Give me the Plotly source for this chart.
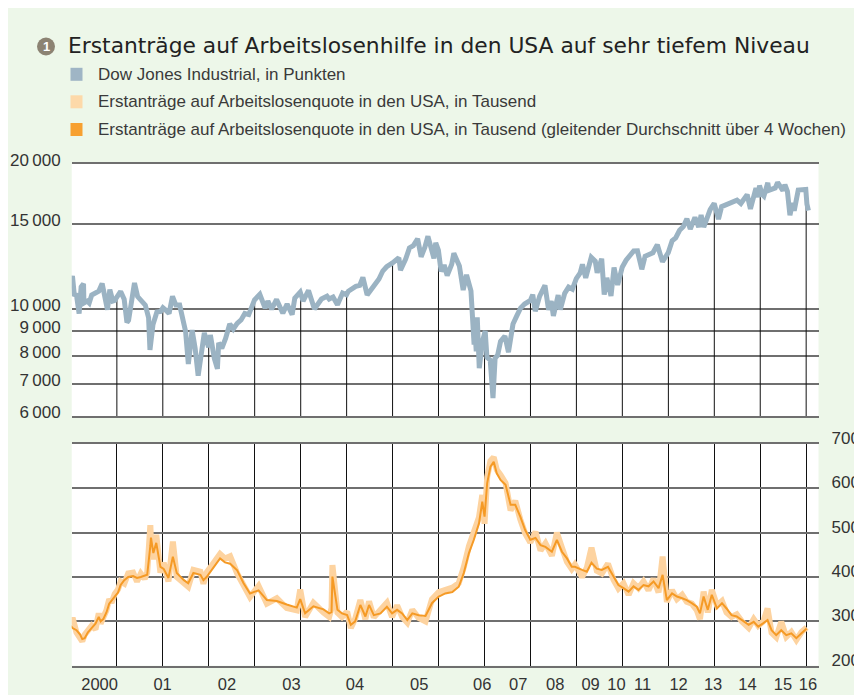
import numpy as np
import pandas as pd
import plotly.graph_objects as go

# the page has an 8 px body margin, so the figure fills the rest of the window
OFF = 8
W, H = 862 - OFF, 695 - OFF

# ---------------- data ----------------
dow_dates = [
    "2000-01-03", "2000-01-14", "2000-01-28", "2000-02-15", "2000-03-07", "2000-03-23", "2000-04-11",
    "2000-04-14", "2000-05-10", "2000-05-26", "2000-06-15", "2000-07-15", "2000-08-10", "2000-09-06",
    "2000-09-29", "2000-10-18", "2000-11-06", "2000-11-30", "2000-12-15",
    "2001-01-02", "2001-01-31", "2001-02-28", "2001-03-22", "2001-04-04", "2001-04-30", "2001-05-21",
    "2001-06-15", "2001-07-15", "2001-08-15", "2001-09-10", "2001-09-21", "2001-10-15", "2001-11-15",
    "2001-12-15",
    "2002-01-02", "2002-01-31", "2002-02-20", "2002-03-19", "2002-04-15", "2002-05-15", "2002-06-15",
    "2002-07-01", "2002-07-23", "2002-08-22", "2002-09-15", "2002-10-09", "2002-11-15", "2002-11-27",
    "2002-12-31",
    "2003-01-14", "2003-02-15", "2003-03-11", "2003-03-21", "2003-04-15", "2003-05-15", "2003-06-17",
    "2003-07-15", "2003-08-15", "2003-09-15", "2003-10-15", "2003-11-15", "2003-12-31",
    "2004-02-11", "2004-03-24", "2004-04-15", "2004-05-15", "2004-06-23", "2004-08-12", "2004-09-15",
    "2004-10-25", "2004-11-15", "2004-12-28",
    "2005-01-20", "2005-03-04", "2005-04-20", "2005-05-15", "2005-06-15", "2005-07-29", "2005-08-15",
    "2005-09-15", "2005-10-20", "2005-11-30", "2005-12-31",
    "2006-01-15", "2006-02-15", "2006-03-15", "2006-04-15", "2006-05-10", "2006-06-13", "2006-07-15",
    "2006-08-15", "2006-09-15", "2006-10-15", "2006-11-15", "2006-12-29",
    "2007-01-31", "2007-02-20", "2007-03-05", "2007-04-15", "2007-05-15", "2007-06-15", "2007-07-19",
    "2007-08-16", "2007-09-15", "2007-10-09", "2007-11-26", "2007-12-10", "2007-12-31",
    "2008-01-22", "2008-02-15", "2008-03-10", "2008-04-15", "2008-05-02", "2008-06-15", "2008-07-15",
    "2008-08-11", "2008-09-15", "2008-10-10", "2008-10-13", "2008-10-27", "2008-11-04", "2008-11-20",
    "2008-12-15",
    "2009-01-06", "2009-01-20", "2009-02-15", "2009-03-09", "2009-03-26", "2009-04-15", "2009-05-08",
    "2009-06-12", "2009-07-10", "2009-08-15", "2009-09-15", "2009-10-15", "2009-11-15", "2009-12-31",
    "2010-01-19", "2010-02-08", "2010-03-15", "2010-04-26", "2010-05-25", "2010-06-15", "2010-07-02",
    "2010-08-09", "2010-08-26", "2010-09-30", "2010-10-31", "2010-11-30", "2010-12-31",
    "2011-01-31", "2011-02-18", "2011-03-16", "2011-04-29", "2011-05-31", "2011-06-15", "2011-07-21",
    "2011-08-10", "2011-08-31", "2011-10-03", "2011-10-27", "2011-11-25", "2011-12-31",
    "2012-01-31", "2012-02-29", "2012-03-31", "2012-04-30", "2012-06-04", "2012-06-30", "2012-07-31",
    "2012-08-31", "2012-10-05", "2012-11-15", "2012-12-31",
    "2013-01-31", "2013-02-28", "2013-03-31", "2013-04-30", "2013-05-28", "2013-06-24", "2013-07-31",
    "2013-08-30", "2013-09-18", "2013-10-09", "2013-11-29", "2013-12-31",
    "2014-02-03", "2014-02-28", "2014-03-31", "2014-04-30", "2014-05-30", "2014-06-30", "2014-07-31",
    "2014-08-29", "2014-09-19", "2014-10-15", "2014-11-28", "2014-12-16", "2014-12-26",
    "2015-01-15", "2015-01-30", "2015-03-02", "2015-03-11", "2015-04-30", "2015-05-19", "2015-06-30",
    "2015-07-16", "2015-08-05", "2015-08-25", "2015-09-15", "2015-09-28", "2015-10-30", "2015-11-30",
    "2015-12-29",
    "2016-01-07", "2016-01-19",
]
dow_values = [
    11357, 11723, 10739, 10700, 9796, 11120, 11287,
    10306, 10400, 10300, 10700, 10800, 10900, 11310,
    10650, 9975, 10980, 10400, 10430,
    10646, 10887, 10495, 9389, 9485, 10735, 11337,
    10623, 10450, 10200, 9605, 8236, 9300, 9872,
    9900,
    10073, 9920, 9800, 10635, 10200, 10200, 9500,
    9000, 7702, 9053, 8300, 7286, 8500, 8931,
    8342,
    8842, 7900, 7524, 8521, 8300, 8700, 9323,
    9100, 9350, 9500, 9800, 9750, 10454,
    10737, 10050, 10400, 10000, 10480, 9815, 10250,
    9750, 10550, 10854,
    10400, 10940, 10012, 10250, 10500, 10640, 10500,
    10600, 10215, 10805, 10717,
    10900, 11050, 11150, 11200, 11642, 10706, 11000,
    11200, 11550, 12000, 12250, 12463,
    12620, 12786, 12050, 12700, 13400, 13550, 14000,
    12846, 13450, 14165, 12743, 13727, 13265,
    11971, 12350, 11740, 12400, 13058, 12300, 10963,
    11782, 10918, 8451, 9387, 8176, 9625, 7552,
    8565,
    9015, 7950, 7850, 6547, 7924, 8030, 8575,
    8800, 8146, 9320, 9700, 10063, 10250, 10428,
    10726, 9908, 10650, 11205, 9975, 10400, 9686,
    10698, 9986, 10789, 11118, 11006, 11578,
    11892, 12391, 11613, 12811, 12570, 11897, 12724,
    10720, 11614, 10655, 12209, 11231, 12218,
    12633, 12952, 13212, 13214, 12101, 12880, 13009,
    13091, 13610, 12542, 13104,
    13861, 14054, 14579, 14840, 15409, 14660, 15500,
    14810, 15676, 14802, 16086, 16577,
    15373, 16322, 16458, 16581, 16717, 16827, 16563,
    17098, 17280, 16142, 17828, 17068, 18053,
    17320, 17165, 18288, 17635, 17841, 18312, 17620,
    18120, 17550, 15666, 16600, 16001, 17664, 17720,
    17720,
    16514, 16016,
]

claims_dates = [
    "2000-01-01", "2000-01-15", "2000-02-15", "2000-03-15", "2000-04-01", "2000-04-20", "2000-05-15",
    "2000-06-15", "2000-07-15", "2000-08-10", "2000-08-25", "2000-09-15", "2000-10-10", "2000-11-01",
    "2000-11-20", "2000-12-15",
    "2001-01-10", "2001-01-31", "2001-03-01", "2001-04-01", "2001-05-10", "2001-06-10", "2001-07-10",
    "2001-08-10", "2001-08-30", "2001-09-24", "2001-09-29", "2001-10-18", "2001-11-10", "2001-12-13",
    "2002-01-08", "2002-02-15", "2002-03-22", "2002-04-22", "2002-06-18", "2002-07-22", "2002-09-01",
    "2002-10-27", "2002-11-20", "2002-12-15",
    "2003-02-10", "2003-04-01", "2003-05-10", "2003-06-20", "2003-08-15", "2003-10-05", "2003-11-25",
    "2004-02-01", "2004-04-07", "2004-06-25", "2004-09-12", "2004-12-01", "2004-12-28",
    "2005-02-05", "2005-04-12", "2005-07-01", "2005-08-15", "2005-09-03", "2005-09-10", "2005-10-20",
    "2005-11-25",
    "2006-01-05", "2006-02-03", "2006-03-10", "2006-04-20", "2006-05-30", "2006-06-28", "2006-08-05",
    "2006-09-27", "2006-11-17", "2006-12-28",
    "2007-02-06", "2007-03-18", "2007-04-28", "2007-06-07", "2007-07-27", "2007-09-20", "2007-11-10",
    "2008-01-03", "2008-02-24", "2008-04-20", "2008-06-10", "2008-07-20", "2008-08-30", "2008-10-08",
    "2008-11-18", "2008-12-14",
    "2009-01-01", "2009-01-22", "2009-02-17", "2009-03-15", "2009-04-08", "2009-05-08", "2009-06-17",
    "2009-07-27", "2009-09-02", "2009-10-12", "2009-11-20", "2009-12-31",
    "2010-02-10", "2010-03-22", "2010-04-30", "2010-06-20", "2010-07-30", "2010-09-08", "2010-10-18",
    "2010-11-25", "2010-12-20",
    "2011-02-15", "2011-03-25", "2011-05-01", "2011-06-12", "2011-07-22", "2011-09-09", "2011-10-23",
    "2011-12-01",
    "2012-01-10", "2012-02-20", "2012-03-30", "2012-05-08", "2012-06-17", "2012-07-27", "2012-09-05",
    "2012-10-15", "2012-11-16", "2012-12-20",
    "2013-01-30", "2013-03-10", "2013-04-20", "2013-05-27", "2013-07-06", "2013-08-15", "2013-09-09",
    "2013-10-08", "2013-11-10", "2013-12-12",
    "2014-01-22", "2014-03-03", "2014-04-08", "2014-05-18", "2014-06-28", "2014-08-07", "2014-10-01",
    "2014-11-10", "2014-12-16",
    "2015-01-26", "2015-02-28", "2015-04-01", "2015-05-08", "2015-06-17", "2015-07-27", "2015-09-05",
    "2015-10-15", "2015-11-25",
    "2016-01-05",
]
claims_avg = [
    290, 285, 280, 270, 260, 262, 275,
    285, 295, 310, 300, 305, 320, 340,
    348, 356,
    365, 382, 393, 400, 402, 398, 400,
    402, 405, 470, 489, 454, 477, 423,
    418, 398, 446, 409, 393, 386, 409,
    405, 393, 400,
    423, 442, 433, 430, 415, 386, 363,
    370, 348, 346, 338, 331, 350,
    318, 334, 327, 318, 321, 401, 326,
    318,
    314, 292, 300, 337, 311, 337, 314,
    318, 333, 318,
    326, 318, 303, 318, 314, 312, 341,
    356, 363, 366, 378, 409, 454, 484,
    521, 570,
    536, 612, 649, 660, 634, 619, 608,
    563, 563, 536, 506, 484,
    488, 472, 468, 457, 484, 457, 442,
    423, 423,
    416, 412, 432, 419, 416, 423, 401,
    382,
    375, 367, 379, 371, 382, 379, 390,
    375, 405, 348,
    363, 356, 352, 348, 341, 333, 318,
    356, 326, 360,
    329, 341, 329, 314, 311, 303, 292,
    299, 288,
    296, 303, 280, 269, 280, 269, 273,
    262, 273,
    284,
]
claims_weekly = [
    295, 308, 275, 265, 255, 270, 280,
    290, 282, 318, 295, 310, 325, 350,
    342, 362,
    372, 390, 385, 408, 410, 390, 408,
    396, 410, 517, 480, 440, 495, 410,
    432, 390, 480, 400, 385, 378, 416,
    412, 385, 410,
    432, 452, 442, 447, 408, 380, 355,
    380, 340, 352, 330, 325, 372,
    310, 342, 320, 310, 330, 427, 320,
    310,
    322, 285, 306, 348, 305, 345, 309,
    326, 342, 310,
    336, 310, 297, 326, 308, 300, 350,
    366, 372, 376, 386, 422, 470, 500,
    535, 585,
    520, 626, 662, 670, 642, 630, 612,
    550, 572, 530, 498, 478,
    502, 460, 476, 448, 500, 466, 434,
    418, 428,
    400, 421, 466, 414, 408, 430, 394,
    374,
    386, 360, 386, 375, 390, 370, 396,
    365, 446, 344,
    370, 350, 360, 344, 340, 325, 305,
    367, 320, 371,
    336, 346, 320, 310, 316, 300, 285,
    305, 290,
    300, 329, 274, 264, 299, 265, 276,
    258, 276,
    286,
]

year_lines = list(range(2001, 2017))
x_tick_dates = [
    "2000-08-17", "2001-12-30", "2003-05-26", "2004-10-20", "2006-03-08", "2007-08-01",
    "2008-12-14", "2009-09-26", "2010-07-16", "2011-04-24", "2011-11-16", "2012-06-10",
    "2013-03-23", "2013-12-22", "2014-09-22", "2015-07-01", "2016-01-15",
]
x_tick_text = ["2000", "01", "02", "03", "04", "05", "06", "07", "08", "09",
               "10", "11", "12", "13", "14", "15", "16"]
dow_ticks = [6000, 7000, 8000, 9000, 10000, 15000, 20000]
dow_tick_text = ["6\u2009000", "7\u2009000", "8\u2009000", "9\u2009000",
                 "10\u2009000", "15\u2009000", "20\u2009000"]
claims_ticks = [200, 300, 400, 500, 600, 700]

title_text = "Erstanträge auf Arbeitslosenhilfe in den USA auf sehr tiefem Niveau"
legend_labels = [
    "Dow Jones Industrial, in Punkten",
    "Erstanträge auf Arbeitslosenquote in den USA, in Tausend",
    "Erstanträge auf Arbeitslosenquote in den USA, in Tausend (gleitender Durchschnitt über 4 Wochen)",
]

# ---------------- styles ----------------
BG = "#EDF7E9"
GRID = "#6f6f6f"
C_DOW = "#9BB3C3"
C_RAW = "#FDD3A0"
C_AVG = "#F59A25"
LEG_COLORS = ["#9FB5C5", "#FDD9A9", "#F7A030"]
TXT = "#333333"
FONT = "Liberation Sans, Arial, sans-serif"


def fx(p):
    """page pixel x -> paper fraction"""
    return (p - OFF) / W


def fy(p):
    """page pixel y -> paper fraction"""
    return 1 - (p - OFF) / H


# drop lines from the bottom of the upper panel up to the Dow curve at each year start
dts = pd.to_datetime(dow_dates).astype("int64").to_numpy()
drop_x, drop_y = [], []
for yr in year_lines:
    d = pd.Timestamp(f"{yr}-01-01")
    v = float(np.interp(d.value, dts, dow_values))
    drop_x += [d.strftime("%Y-%m-%d"), d.strftime("%Y-%m-%d"), None]
    drop_y += [dow_ticks[0], v, None]

fig = go.Figure()
fig.add_trace(go.Scatter(x=drop_x, y=drop_y, mode="lines", xaxis="x2", yaxis="y2",
                         line=dict(color="#111111", width=1), hoverinfo="skip"))
fig.add_trace(go.Scatter(x=dow_dates, y=dow_values, mode="lines", xaxis="x2", yaxis="y2",
                         line=dict(color=C_DOW, width=5), name=legend_labels[0]))
fig.add_trace(go.Scatter(x=claims_dates, y=claims_weekly, mode="lines", xaxis="x", yaxis="y",
                         line=dict(color=C_RAW, width=6), name=legend_labels[1]))
fig.add_trace(go.Scatter(x=claims_dates, y=claims_avg, mode="lines", xaxis="x", yaxis="y",
                         line=dict(color=C_AVG, width=2), name=legend_labels[2]))

x_range = ["2000-01-08", "2016-04-08"]
x_dom = [fx(71.7), fx(818.5)]

fig.update_layout(
    width=W, height=H,
    margin=dict(l=0, r=0, t=0, b=0),
    paper_bgcolor=BG, plot_bgcolor="white",
    showlegend=False,
    font=dict(family=FONT, color=TXT, size=17),
    xaxis=dict(
        domain=x_dom, anchor="y", type="date", range=x_range,
        tickmode="array", tickvals=x_tick_dates, ticktext=x_tick_text,
        ticks="", showgrid=False, zeroline=False,
        showline=True, mirror=True, linecolor=GRID, linewidth=2,
        tickfont=dict(size=16.5, color=TXT), ticklabelstandoff=2,
        minor=dict(tickmode="array", tickvals=[f"{y}-01-01" for y in year_lines],
                   showgrid=True, gridcolor="#111111", gridwidth=1, ticks=""),
        automargin=False,
    ),
    yaxis=dict(
        domain=[fy(665.7), fy(444)], anchor="x", side="right",
        range=[200, 700], tickmode="array", tickvals=claims_ticks,
        showgrid=True, gridcolor=GRID, gridwidth=2, zeroline=False, ticks="",
        tickfont=dict(size=17, color=TXT), ticklabelstandoff=12, ticklabelshift=-6,
        automargin=False,
    ),
    xaxis2=dict(
        domain=x_dom, anchor="y2", type="date", range=x_range, matches="x",
        showticklabels=False, ticks="", showgrid=False, zeroline=False,
        showline=True, mirror=True, linecolor=GRID, linewidth=2,
        automargin=False,
    ),
    yaxis2=dict(
        domain=[fy(416.3), fy(164)], anchor="x2", side="left", type="log",
        range=[np.log10(6000), np.log10(20000)],
        tickmode="array", tickvals=dow_ticks, ticktext=dow_tick_text,
        showgrid=True, gridcolor=GRID, gridwidth=2, zeroline=False, ticks="",
        tickfont=dict(size=17, color=TXT), ticklabelstandoff=10, ticklabelshift=-4,
        automargin=False,
    ),
)

# title with numbered circle
fig.add_shape(type="circle", xref="paper", yref="paper",
              x0=fx(37), x1=fx(55), y0=fy(55.5), y1=fy(37.5),
              fillcolor="#8C8373", line=dict(width=0), layer="above")
fig.add_annotation(x=fx(46), y=fy(46.5), xref="paper", yref="paper", text="<b>1</b>",
                   showarrow=False, xanchor="center", yanchor="middle",
                   font=dict(family=FONT, size=13, color="white"))
fig.add_annotation(x=fx(66), y=fy(46), xref="paper", yref="paper", text=title_text,
                   showarrow=False, xanchor="left", yanchor="middle",
                   font=dict(family="DejaVu Sans, sans-serif", size=21.8, color="#222222"))

# custom legend
row_y = [74.3, 101.8, 129.5]
for lab, col, ry in zip(legend_labels, LEG_COLORS, row_y):
    fig.add_shape(type="rect", xref="paper", yref="paper",
                  x0=fx(70.5), x1=fx(82.5), y0=fy(ry + 6.5), y1=fy(ry - 6.5),
                  fillcolor=col, line=dict(width=0))
    fig.add_annotation(x=fx(96), y=fy(ry), xref="paper", yref="paper", text=lab,
                       showarrow=False, xanchor="left", yanchor="middle",
                       font=dict(family=FONT, size=17.0, color="#3a3a3a"))

fig.write_html("out.html")
